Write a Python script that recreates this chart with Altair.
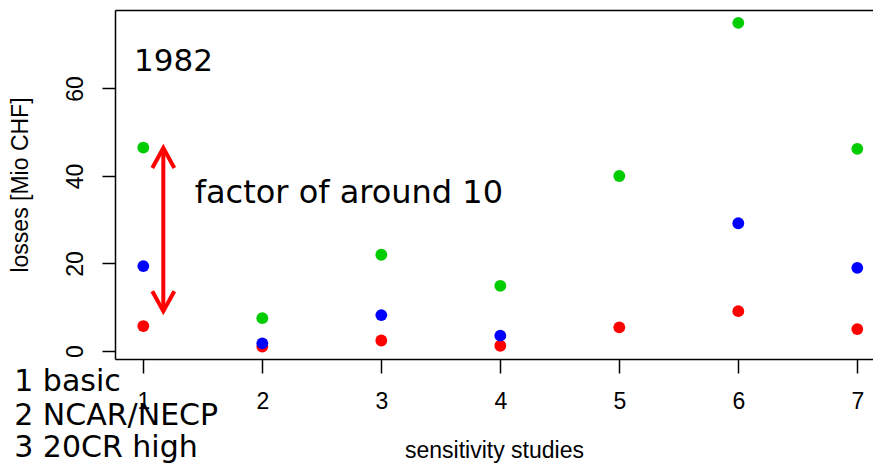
import altair as alt
import pandas as pd

# ---- data ----
studies = [1, 2, 3, 4, 5, 6, 7]
green_vals = [46.5, 7.5, 22.0, 14.9, 40.0, 75.0, 46.2]
blue_vals = [19.4, 1.75, 8.2, 3.5, None, 29.2, 19.0]
red_vals = [5.7, 1.0, 2.4, 1.2, 5.4, 9.1, 5.0]

series_names = ["red", "blue", "green"]
series_colors = ["#FF0000", "#0000FF", "#00CD00"]

# annotations
year_label = ["1982"]
year_pos = [(0.922, 64.0)]
factor_label = ["factor of around 10"]
factor_pos = [(1.432, 33.9)]
legend_lines = ["1 basic", "2 NCAR/NECP", "3 20CR high"]
legend_x = [-0.085, -0.085, -0.085]
legend_y = [-9.2, -17.0, -24.3]
arrow_x = [1.168]
arrow_top = [46.4]
arrow_bottom = [9.1]

# ---- tables ----
rows = []
for name, vals in zip(series_names, [red_vals, blue_vals, green_vals]):
    for s, v in zip(studies, vals):
        if v is not None:
            rows.append({"x": s, "y": v, "series": name})
pts = pd.DataFrame(rows)

xs = alt.Scale(domain=[0.762, 7.132], nice=False, zero=False)
ys = alt.Scale(domain=[-1.83, 77.94], nice=False, zero=False)

FONT_AX = "Liberation Sans"
FONT_TX = "DejaVu Sans"

points = alt.Chart(pts).mark_circle(size=140, opacity=1).encode(
    x=alt.X("x:Q", scale=xs,
            axis=alt.Axis(values=studies, format="d", title="sensitivity studies",
                          grid=False, tickSize=14, tickWidth=1.5, tickColor="black",
                          domainColor="black", domainWidth=1.5,
                          labelFont=FONT_AX, labelFontSize=23, labelColor="black",
                          labelPadding=17, titleFont=FONT_AX, titleFontSize=23,
                          titleFontWeight="normal", titleColor="black",
                          titlePadding=26)),
    y=alt.Y("y:Q", scale=ys,
            axis=alt.Axis(values=[0, 20, 40, 60], title="losses [Mio CHF]",
                          grid=False, tickSize=13, tickWidth=1.5, tickColor="black",
                          domainColor="black", domainWidth=1.5,
                          labelFont=FONT_AX, labelFontSize=23, labelColor="black",
                          labelAngle=270, labelAlign="center", labelBaseline="bottom",
                          labelPadding=15, titleFont=FONT_AX, titleFontSize=23,
                          titleFontWeight="normal", titleColor="black",
                          titlePadding=32)),
    color=alt.Color("series:N", scale=alt.Scale(domain=series_names, range=series_colors),
                    legend=None),
)

arrow_df = pd.DataFrame({"x": arrow_x, "y": arrow_top, "y2": arrow_bottom})

shaft = alt.Chart(arrow_df).mark_rule(color="#FF0000", strokeWidth=4).encode(
    x=alt.X("x:Q", scale=xs,
            axis=alt.Axis(orient="top", labels=False, ticks=False, title=None,
                          grid=False, domainColor="black", domainWidth=1.5)),
    y=alt.Y("y:Q", scale=ys, axis=None),
    y2="y2:Q",
)

head_path = "M -0.55 1 L 0 0 L 0.55 1"
head_up = alt.Chart(arrow_df).mark_point(
    shape=head_path, filled=False, size=1600, strokeWidth=4, color="#FF0000",
    opacity=1, strokeJoin="miter").encode(
    x=alt.X("x:Q", scale=xs, axis=None),
    y=alt.Y("y:Q", scale=ys, axis=None),
)
head_down = alt.Chart(pd.DataFrame({"x": arrow_x, "y": arrow_bottom})).mark_point(
    shape=head_path, filled=False, size=1600, strokeWidth=4, color="#FF0000",
    opacity=1, angle=180, strokeJoin="miter").encode(
    x=alt.X("x:Q", scale=xs, axis=None),
    y=alt.Y("y:Q", scale=ys, axis=None),
)

year_df = pd.DataFrame({"x": [p[0] for p in year_pos], "y": [p[1] for p in year_pos],
                        "t": year_label})
year_text = alt.Chart(year_df).mark_text(font=FONT_TX, fontSize=31, align="left",
                                         baseline="alphabetic", color="black").encode(
    x=alt.X("x:Q", scale=xs, axis=None), y=alt.Y("y:Q", scale=ys, axis=None), text="t:N")

factor_df = pd.DataFrame({"x": [p[0] for p in factor_pos], "y": [p[1] for p in factor_pos],
                          "t": factor_label})
factor_text = alt.Chart(factor_df).mark_text(font=FONT_TX, fontSize=32, align="left",
                                             baseline="alphabetic", color="black").encode(
    x=alt.X("x:Q", scale=xs, axis=None), y=alt.Y("y:Q", scale=ys, axis=None), text="t:N")

leg_df = pd.DataFrame({"x": legend_x, "y": legend_y, "t": legend_lines})
leg_text = alt.Chart(leg_df).mark_text(font=FONT_TX, fontSize=30, align="left",
                                       baseline="alphabetic", color="black").encode(
    x=alt.X("x:Q", scale=xs, axis=None), y=alt.Y("y:Q", scale=ys, axis=None), text="t:N")

chart = alt.layer(points, shaft, head_up, head_down, year_text, factor_text, leg_text
).resolve_axis(x="independent", y="independent").properties(
    width=758, height=349,
    autosize=alt.AutoSizeParams(type="none"),
    padding={"left": 107, "top": 2, "right": 0, "bottom": 106},
).configure_view(stroke=None).configure(background="white")

chart.save("out.html", embed_options={"renderer": "svg", "actions": False})
